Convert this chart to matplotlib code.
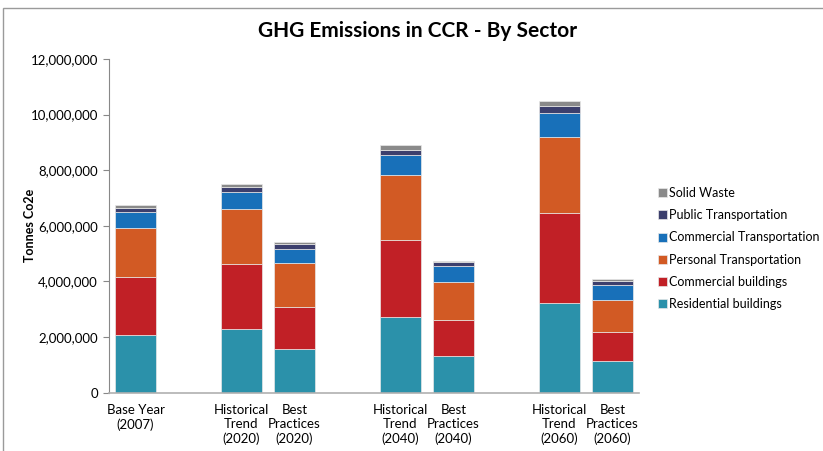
import matplotlib.pyplot as plt
from matplotlib.patches import Rectangle
from matplotlib.ticker import FuncFormatter

# scenario slots (empty strings leave a gap between groups)
scenarios = ['Base Year\n(2007)', '',
             'Historical\nTrend\n(2020)', 'Best\nPractices\n(2020)', '',
             'Historical\nTrend\n(2040)', 'Best\nPractices\n(2040)', '',
             'Historical\nTrend\n(2060)', 'Best\nPractices\n(2060)']

# emissions by sector in tonnes CO2e, one value per slot (None = gap)
residential = [2080000, None, 2280000, 1560000, None, 2720000, 1320000, None, 3220000, 1150000]
commercial_bldg = [2070000, None, 2350000, 1520000, None, 2760000, 1300000, None, 3240000, 1040000]
personal_trans = [1780000, None, 1970000, 1580000, None, 2340000, 1370000, None, 2750000, 1140000]
commercial_trans = [550000, None, 630000, 520000, None, 710000, 550000, None, 850000, 550000]
public_trans = [150000, None, 170000, 170000, None, 210000, 140000, None, 260000, 130000]
solid_waste = [110000, None, 100000, 70000, None, 160000, 60000, None, 160000, 60000]

sectors = [
    ('Residential buildings', residential, '#2b91aa'),
    ('Commercial buildings', commercial_bldg, '#c12026'),
    ('Personal Transportation', personal_trans, '#d25a24'),
    ('Commercial Transportation', commercial_trans, '#1870b9'),
    ('Public Transportation', public_trans, '#3c3f6d'),
    ('Solid Waste', solid_waste, '#8a8a8a'),
]

plt.rcParams['font.family'] = ['Lato', 'DejaVu Sans']

W, H = 823, 451
fig = plt.figure(figsize=(W / 100, H / 100), dpi=100)
ax = fig.add_axes([109 / W, 1 - 392.5 / H, (639 - 109) / W, (392.5 - 59) / H])

# thin frame around the whole chart area
fig.patches.append(Rectangle((3 / W, -0.1), 1.2, 1 - 8.5 / H + 0.1,
                             transform=fig.transFigure, fill=False,
                             edgecolor='#9a9a9a', linewidth=1.0))

idx = [i for i, v in enumerate(residential) if v is not None]
bottom = {i: 0 for i in idx}
for name, vals, color in sectors:
    hs = [vals[i] for i in idx]
    bs = [bottom[i] for i in idx]
    ax.bar(idx, hs, bottom=bs, width=0.77, color=color, label=name,
           edgecolor='#e8e8e8', linewidth=0.5)
    for i in idx:
        bottom[i] += vals[i]

ax.set_xlim(-0.5, 9.5)
ax.set_ylim(0, 12000000)
ax.set_yticks(range(0, 12000001, 2000000))
ax.yaxis.set_major_formatter(FuncFormatter(lambda v, p: f'{int(v):,}'))
ax.set_xticks(idx)
ax.set_xticklabels([scenarios[i] for i in idx], fontsize=9.5, linespacing=1.25)
ax.tick_params(axis='x', length=0, pad=8)
ax.tick_params(axis='y', length=4, color='#888888', labelsize=9.5, pad=4)

for s in ['top', 'right']:
    ax.spines[s].set_visible(False)
ax.spines['left'].set_color('#888888')
ax.spines['bottom'].set_color('#b0b0b0')
ax.spines['bottom'].set_linewidth(1.2)

ax.set_ylabel('Tonnes Co2e', fontsize=9, fontweight='bold')
ax.yaxis.set_label_coords(-0.137, 0.5)

fig.text(417.5 / W, 1 - 31 / H, 'GHG Emissions in CCR - By Sector',
         ha='center', va='center', fontsize=15, fontweight='bold')

handles, labels = ax.get_legend_handles_labels()
ax.legend(handles[::-1], labels[::-1], loc='upper left',
          bbox_to_anchor=(658 / W, 1 - 187 / H), bbox_transform=fig.transFigure,
          frameon=False, fontsize=9, handlelength=0.75, handleheight=0.75,
          handletextpad=0.15, labelspacing=0.82, borderpad=0, borderaxespad=0)

fig.savefig('out.png', dpi=100)
